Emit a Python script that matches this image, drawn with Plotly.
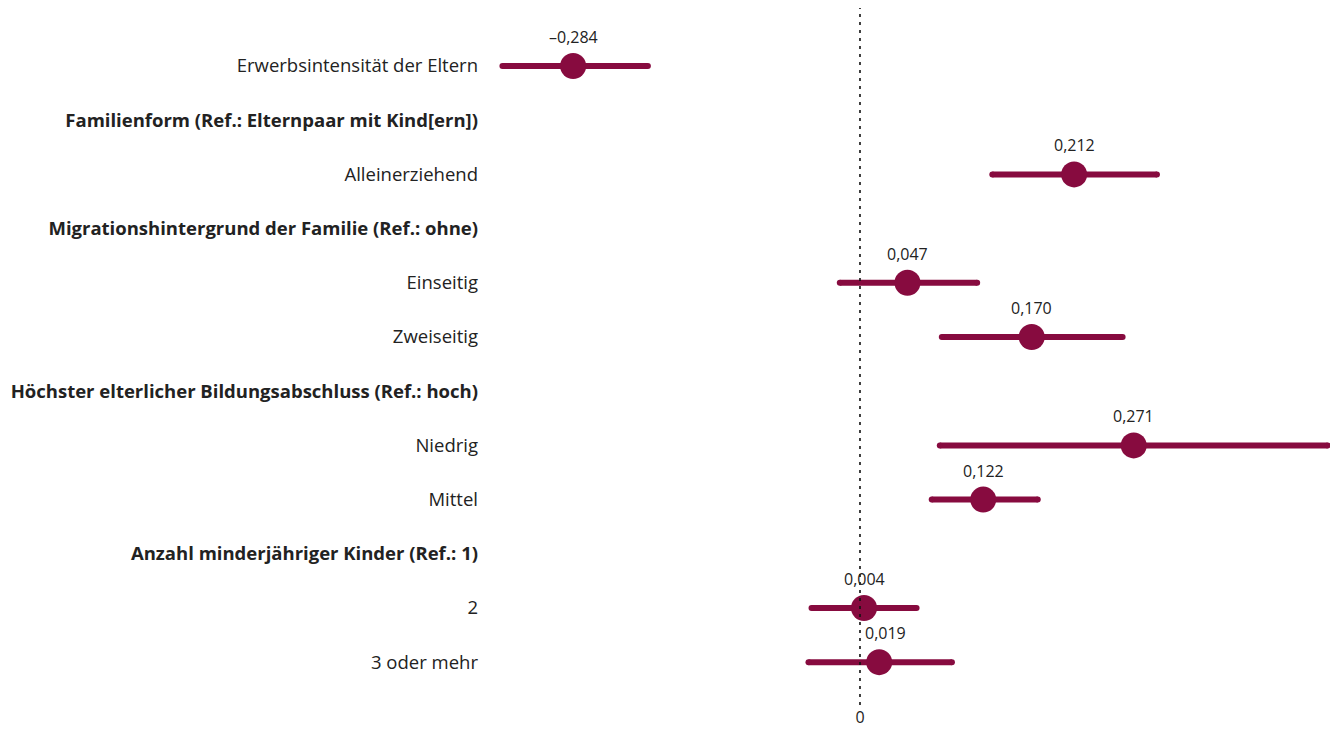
import plotly.graph_objects as go

labels = [
    "Erwerbsintensität der Eltern",
    "<b>Familienform (Ref.: Elternpaar mit Kind[ern])</b>",
    "Alleinerziehend",
    "<b>Migrationshintergrund der Familie (Ref.: ohne)</b>",
    "Einseitig",
    "Zweiseitig",
    "<b>Höchster elterlicher Bildungsabschluss (Ref.: hoch)</b>",
    "Niedrig",
    "Mittel",
    "<b>Anzahl minderjähriger Kinder (Ref.: 1)</b>",
    "2",
    "3 oder mehr",
]
estimates = [-0.284, None, 0.212, None, 0.047, 0.170, None, 0.271, 0.122, None, 0.004, 0.019]
lower = [-0.354, None, 0.131, None, -0.020, 0.081, None, 0.079, 0.071, None, -0.048, -0.051]
upper = [-0.210, None, 0.294, None, 0.116, 0.260, None, 0.463, 0.176, None, 0.056, 0.091]
value_text = ["\u20130,284", None, "0,212", None, "0,047", "0,170", None, "0,271", "0,122", None, "0,004", "0,019"]

color = "#870B3F"
rows = list(range(len(labels)))

fig = go.Figure()

# confidence intervals
for i in rows:
    if estimates[i] is None:
        continue
    fig.add_trace(go.Scatter(
        x=[lower[i], upper[i]], y=[i, i], mode="lines+markers",
        line=dict(color=color, width=6),
        marker=dict(color=color, size=6),
        hoverinfo="skip", showlegend=False,
    ))

# point estimates
pts = [i for i in rows if estimates[i] is not None]
fig.add_trace(go.Scatter(
    x=[estimates[i] for i in pts], y=pts, mode="markers",
    marker=dict(color=color, size=26),
    showlegend=False,
))

for i in pts:
    fig.add_annotation(
        x=estimates[i], y=i, text=value_text[i], showarrow=False,
        yshift=29, xshift=(6 if i == 11 else 0),
        font=dict(family="Open Sans", size=16, color="#222"),
    )

fig.add_shape(type="line", xref="x", yref="paper", x0=0, x1=0, y0=0, y1=1,
              line=dict(color="#111", width=1.6, dash="3px,5px"))

fig.update_layout(
    width=1330, height=721,
    margin=dict(l=482, r=6, t=0, b=24, autoexpand=False),
    paper_bgcolor="white", plot_bgcolor="white",
    font=dict(family="Open Sans", size=18.5, color="#222"),
    xaxis=dict(range=[-0.3663, 0.4673], tickvals=[0], ticktext=["0"],
               showgrid=False, zeroline=False, showline=False,
               ticklabelstandoff=1, automargin=False,
               tickfont=dict(family="Open Sans", size=16, color="#222")),
    yaxis=dict(range=[11.79, -1.07], tickvals=rows, ticktext=labels,
               showgrid=False, zeroline=False, showline=False,
               ticklabelstandoff=11, automargin=False),
)

fig.write_html("out.html")
